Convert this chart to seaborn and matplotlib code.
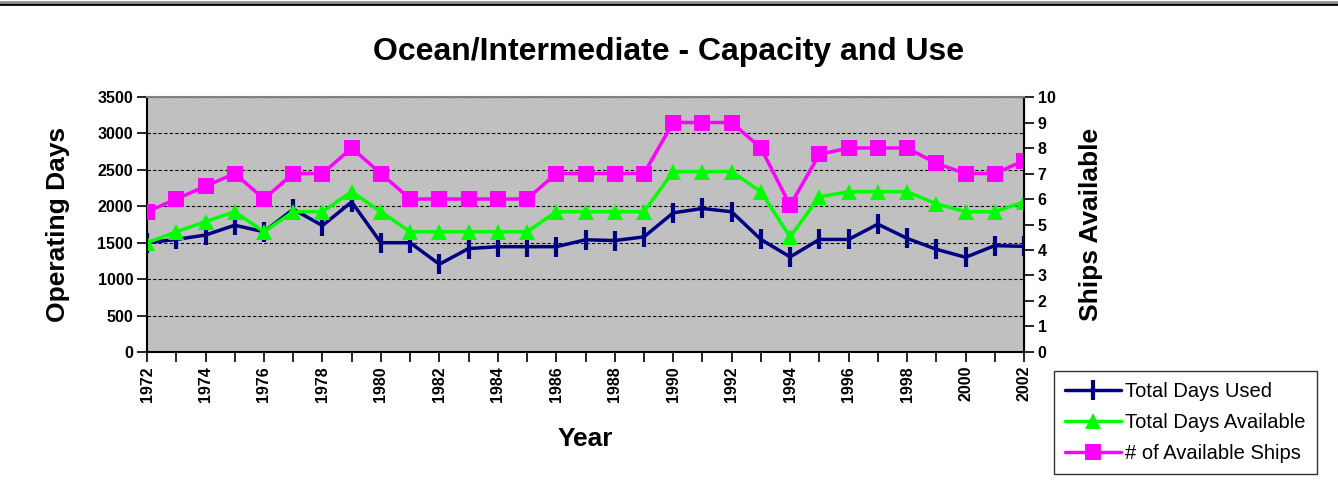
import pandas as pd
import seaborn as sns
import matplotlib.pyplot as plt
from matplotlib.lines import Line2D

# data
years = list(range(1972, 2003))
days_used = [1500, 1545, 1605, 1740, 1650, 1960, 1735, 2060, 1500, 1500,
             1205, 1420, 1445, 1445, 1445, 1540, 1530, 1580, 1910, 1970,
             1925, 1545, 1305, 1545, 1545, 1755, 1560, 1410, 1300, 1460, 1450]
days_available = [1500, 1650, 1790, 1925, 1650, 1925, 1925, 2200, 1925, 1650,
                  1650, 1650, 1650, 1650, 1925, 1925, 1925, 1925, 2475, 2475,
                  2475, 2200, 1580, 2130, 2200, 2200, 2200, 2035, 1925, 1925, 2060]
ships = [5.5, 6, 6.5, 7, 6, 7, 7, 8, 7, 6,
         6, 6, 6, 6, 7, 7, 7, 7, 9, 9,
         9, 8, 5.75, 7.75, 8, 8, 8, 7.4, 7, 7, 7.5]

df = pd.DataFrame({'Year': years, 'Used': days_used,
                   'Available': days_available, 'Ships': ships})

sns.set_style('white')
plt.rcParams['font.family'] = ['Liberation Sans', 'DejaVu Sans']
plt.rcParams['text.color'] = 'black'
plt.rcParams['axes.labelcolor'] = 'black'
plt.rcParams['xtick.color'] = 'black'
plt.rcParams['ytick.color'] = 'black'

fig = plt.figure(figsize=(13.38, 4.99), dpi=100)
ax = fig.add_axes([0.1099, 0.2946, 0.6554, 0.5110])
ax2 = ax.twinx()

navy = '#000080'
green = '#00FF00'
pink = '#FF00FF'

sns.lineplot(data=df, x='Year', y='Used', ax=ax, color=navy, lw=2.5,
             marker='|', markersize=14, markeredgewidth=3, markeredgecolor=navy)
sns.lineplot(data=df, x='Year', y='Available', ax=ax, color=green, lw=2.5,
             marker='^', markersize=12, markeredgewidth=0)
sns.lineplot(data=df, x='Year', y='Ships', ax=ax2, color=pink, lw=2.5,
             marker='s', markersize=12, markeredgewidth=0)

ax.set_facecolor('#C0C0C0')
ax.set_xlim(1972, 2002)
ax.set_ylim(0, 3500)
ax2.set_ylim(0, 10)
ax.set_yticks(range(0, 3501, 500))
ax2.set_yticks(range(0, 11))
ax.set_xticks(range(1972, 2003))
ax.set_xticklabels([str(y) if y % 2 == 0 else '' for y in years],
                   rotation=90, fontsize=11.5, fontweight='bold')
for lab in ax.get_yticklabels() + ax2.get_yticklabels():
    lab.set_fontweight('bold')
    lab.set_fontsize(11.5)

ax.grid(axis='y', color='black', linestyle=(0, (3, 2)), lw=0.8)
ax.set_axisbelow(True)
ax.tick_params(axis='both', direction='out', length=7, width=1.2, color='black',
               left=True, bottom=True, pad=3)
ax2.tick_params(axis='y', direction='out', length=7, width=1.2, color='black',
                right=True, pad=3)

for sp in ['left', 'bottom']:
    ax.spines[sp].set_color('black')
    ax.spines[sp].set_linewidth(1.5)
ax2.spines['right'].set_color('black')
ax2.spines['right'].set_linewidth(1.5)
ax.spines['top'].set_color('#808080')
ax2.spines['top'].set_color('#808080')
ax2.spines['top'].set_linewidth(1.5)
ax2.spines['left'].set_visible(False)
ax2.spines['bottom'].set_visible(False)

ax.set_xlabel('Year', fontsize=19, fontweight='bold', labelpad=18)
ax.set_ylabel('Operating Days', fontsize=19, fontweight='bold', labelpad=20)
ax2.set_ylabel('Ships Available', fontsize=19, fontweight='bold', labelpad=17)

fig.text(0.5, 0.895, 'Ocean/Intermediate - Capacity and Use', ha='center',
         va='center', fontsize=23, fontweight='bold')

handles = [
    Line2D([], [], color=navy, lw=2.5, marker='|', markersize=14, markeredgewidth=3),
    Line2D([], [], color=green, lw=2.5, marker='^', markersize=12, markeredgewidth=0),
    Line2D([], [], color=pink, lw=2.5, marker='s', markersize=12, markeredgewidth=0),
]
leg = fig.legend(handles, ['Total Days Used', 'Total Days Available', '# of Available Ships'],
                 loc='upper left', bbox_to_anchor=(0.7877, 0.2565), borderaxespad=0,
                 fontsize=14.5, frameon=True, fancybox=False, edgecolor='black',
                 handlelength=2.8, borderpad=0.55, labelspacing=0.6, handletextpad=0.2)
leg.get_frame().set_linewidth(1.0)

# top border line of the original screenshot
fig.add_artist(Line2D([0, 1], [1 - 4 / 499, 1 - 4 / 499], transform=fig.transFigure,
                      color='black', lw=2))
fig.add_artist(Line2D([0, 1], [1 - 1.5 / 499, 1 - 1.5 / 499], transform=fig.transFigure,
                      color='#909090', lw=2))

fig.savefig('out.png', dpi=100)
